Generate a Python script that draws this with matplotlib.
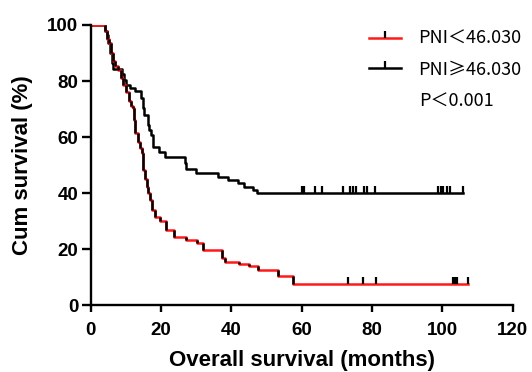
import matplotlib
matplotlib.use("Agg")
import matplotlib.pyplot as plt
from matplotlib.lines import Line2D
import numpy as np

# ---- data ----
high_times = [0, 4.1, 4.5, 5.0, 5.6, 6.1, 6.3, 8.8, 9.5, 10.0, 11.2, 12.6, 14.3, 14.8,
              15.3, 16.2, 16.7, 17.2, 17.8, 19.5, 21.2, 26.7, 27.1, 30.0, 36.2, 39.0,
              41.8, 43.7, 46.1, 47.2]
high_surv = [100, 98, 96.4, 93.5, 89.9, 86.3, 84.4, 82.5, 80.5, 78.6, 77.5, 76.5, 73.9,
             70.5, 67.9, 64.4, 62.5, 60.8, 56.6, 54.8, 53.0, 50.7, 48.6, 47.1, 45.9,
             44.7, 43.5, 42.3, 41.1, 40.0]
high_end = 106.0
high_censor = [60.0, 60.7, 63.8, 65.7, 71.8, 73.7, 74.5, 75.5, 77.8, 78.5, 80.9,
               98.9, 99.5, 100.3, 101.3, 102.2, 106.0]

low_times = [0, 4.1, 4.7, 5.3, 5.9, 6.3, 6.9, 7.9, 8.5, 9.3, 10.0, 10.8, 11.5, 12.1,
             12.4, 12.6, 13.5, 14.0, 14.5, 15.0, 15.5, 16.0, 16.4, 16.9, 17.4, 18.4,
             19.8, 21.3, 23.7, 27.0, 30.2, 31.8, 37.4, 38.3, 42.1, 45.0, 47.7, 53.4, 57.6]
low_surv = [100, 98, 95, 93.5, 90, 87, 85.5, 84, 81, 78.6, 76, 73, 71, 70.3,
            66, 61.4, 58.4, 56, 54.3, 48.3, 45, 42.4, 40, 37.6, 34, 31.7,
            30.1, 26.9, 24.5, 23.4, 22.2, 19.8, 16.8, 15.6, 14.8, 14.2, 12.7, 10.5, 7.6]
low_end = 107.4
low_censor = [73.3, 77.5, 81.1, 103.1, 103.6, 104.1, 107.4]

legend_labels = ["PNI\uff1c46.030", "PNI\u226546.030"]
p_text = "P\uff1c0.001"
x_ticks = [0, 20, 40, 60, 80, 100, 120]
y_ticks = [0, 20, 40, 60, 80, 100]

RED = "#ff1a1a"
BLACK = "#000000"
LW = 1.8

plt.rcParams['font.family'] = ['Liberation Sans', 'Noto Sans CJK SC', 'DejaVu Sans']
LEG_FAMILY = ['Noto Sans CJK SC', 'Liberation Sans', 'DejaVu Sans']

fig = plt.figure(figsize=(5.32, 3.72), dpi=100)
ax = fig.add_axes([0.1705, 0.1788, 0.793, 0.754])


def surv_at(times, surv, t):
    idx = np.searchsorted(times, t, side='right') - 1
    return surv[idx]


# high PNI (black)
ht = list(high_times) + [high_end]
hs = list(high_surv) + [high_surv[-1]]
ax.step(ht, hs, where='post', color=BLACK, lw=LW, zorder=3)
ax.plot(high_censor, [surv_at(high_times, high_surv, t) for t in high_censor],
        ls='none', marker=2, ms=5, mew=1.6, color=BLACK, zorder=5)

# low PNI (red line, black drops and ticks)
lt = list(low_times) + [low_end]
ls = list(low_surv) + [low_surv[-1]]
ax.step(lt, ls, where='post', color=RED, lw=LW, zorder=3.5)
ax.vlines(low_times[1:], low_surv[1:], low_surv[:-1], color=BLACK, lw=LW, zorder=4)
ax.plot(low_censor, [surv_at(low_times, low_surv, t) for t in low_censor],
        ls='none', marker=2, ms=5, mew=1.6, color=BLACK, zorder=5)

ax.set_xlim(0, 120)
ax.set_ylim(0, 100)
ax.set_xticks(x_ticks)
ax.set_yticks(y_ticks)
for s in ['top', 'right']:
    ax.spines[s].set_visible(False)
for s in ['left', 'bottom']:
    ax.spines[s].set_linewidth(1.7)
    ax.spines[s].set_zorder(6)
ax.tick_params(axis='x', direction='out', length=5, width=1.7, pad=7, labelsize=13.5)
ax.tick_params(axis='y', direction='out', length=6.5, width=1.7, pad=2.5, labelsize=13.5)
for lab in ax.get_xticklabels() + ax.get_yticklabels():
    lab.set_fontweight('bold')

ax.set_xlabel("Overall survival (months)", fontsize=16, fontweight='bold', labelpad=8)
ax.set_ylabel("Cum survival (%)", fontsize=16, fontweight='bold', labelpad=10)

handles = [Line2D([0], [0], color=RED, lw=LW, marker=2, ms=5, mew=1.6, mec=BLACK),
           Line2D([0], [0], color=BLACK, lw=LW, marker=2, ms=5, mew=1.6, mec=BLACK)]
leg = fig.legend(handles, legend_labels, loc='upper left',
                 bbox_to_anchor=(369 / 532, 1 - 30 / 372), frameon=False,
                 prop={'family': LEG_FAMILY, 'size': 13},
                 handlelength=1.75, handletextpad=0.95,
                 labelspacing=0.7, borderaxespad=0, borderpad=0)
fig.text(419 / 532, 1 - 102 / 372, p_text, fontsize=13, family=LEG_FAMILY,
         va='center', ha='left')

fig.savefig("out.png", dpi=100)
